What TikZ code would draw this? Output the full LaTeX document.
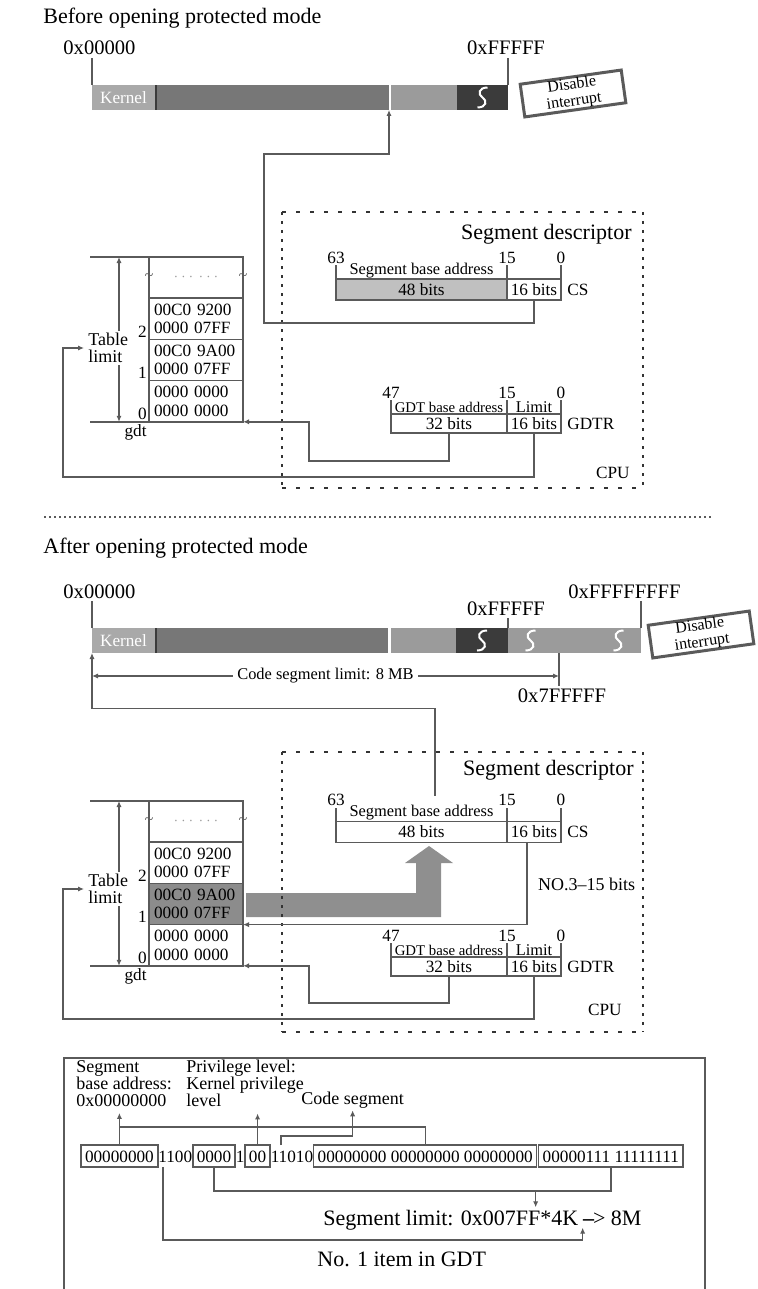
\documentclass[tikz,border=0pt]{standalone}
\usepackage{fontspec}
\setmainfont{Liberation Serif}
\usepackage{tikz}
\usetikzlibrary{arrows.meta,positioning}
\definecolor{linegray}{HTML}{5A5A5A}
\definecolor{kernelgray}{HTML}{A9A9A9}
\definecolor{bargray}{HTML}{777777}
\definecolor{lightbar}{HTML}{9B9B9B}
\definecolor{blackbar}{HTML}{3B3B3B}
\definecolor{basegray}{HTML}{C0C0C0}
\definecolor{rowgray}{HTML}{8C8C8C}
\definecolor{arrowgray}{HTML}{8F8F8F}
\definecolor{dotgray}{HTML}{9A9A9A}
\newcommand\fhead{\fontsize{11}{13}\selectfont}
\newcommand\faddr{\fontsize{10.3}{12}\selectfont}
\newcommand\fmed{\fontsize{9}{8.5}\selectfont}
\newcommand\freg{\fontsize{8.6}{9.2}\selectfont}
\newcommand\fsmall{\fontsize{8.2}{9}\selectfont}
\newcommand\ftiny{\fontsize{7.4}{8}\selectfont}
\tikzset{
  conn/.style={draw=linegray, line width=0.7pt},
  arr/.style={conn, -{Latex[length=3pt,width=2.6pt]}},
  dbl/.style={conn, {Latex[length=3pt,width=2.6pt]}-{Latex[length=3pt,width=2.6pt]}},
  barseg/.style={inner sep=0pt, outer sep=0pt, minimum height=12.5pt, anchor=west},
  addr/.style={font=\faddr, inner sep=1pt},
  reg/.style={draw=linegray, line width=0.75pt, inner sep=0pt, outer sep=0pt, minimum height=10.5pt, font=\freg},
  bitnum/.style={font=\freg, inner sep=0.5pt},
  gdtrow/.style={draw=linegray, line width=0.75pt, inner xsep=2.5pt, inner ysep=0pt, outer sep=0pt, text width=42pt, minimum height=20.6pt, align=left, font=\freg},
  bitbox/.style={draw=linegray, line width=0.75pt, inner xsep=2pt, inner ysep=2.5pt, outer sep=0pt, text height=6pt, text depth=0pt, font=\freg},
  bitplain/.style={bitbox, draw=none, inner xsep=0.3pt},
  disbox/.style={draw=linegray, line width=1.5pt, fill=white, minimum width=51pt, minimum height=16.5pt, inner sep=0.3pt, align=center, font={\fontsize{8}{8.4}\selectfont}, rotate=8},
  tlab/.style={fill=white, inner xsep=0pt, inner ysep=1pt, align=left, font=\fmed},
  idx/.style={font=\freg, inner sep=1pt},
  brkmark/.style={font=\fsmall, text=linegray, inner sep=0pt},
  cpuedge/.style={draw=black!80, line width=1pt},
  brk/.pic={\draw[white, line width=1pt] (5,-10) .. controls (-4,-10) and (-5,-3) .. (0,0) .. controls (5,3) and (4,10) .. (-5,10);}
}
\begin{document}
\begin{tikzpicture}[x=0.5pt, y=-0.5pt]
  \useasboundingbox (0,0) rectangle (757,1289);
  % ---------- before ----------
  \node[font=\fhead, anchor=base west, inner sep=0pt] (hdr1) at (43,24) {Before opening protected mode};
  \node[barseg, fill=kernelgray, text=white, font=\freg, minimum width=31.5pt] (kern) at (92,97.5) {Kernel};
  \node[barseg, fill=blackbar, minimum width=1pt, right=0pt of kern] (kl) {};
  \node[barseg, fill=bargray, minimum width=116pt, right=0pt of kl] (dk) {};
  \node[barseg, fill=lightbar, minimum width=33pt, right=1pt of dk] (lt) {};
  \node[barseg, fill=blackbar, minimum width=25.5pt, right=0pt of lt] (bk) {};
  \pic at (bk.center) {brk};
  \node[addr, anchor=base west] (a0) at (61,55) {0x00000};
  \node[addr, anchor=base] (af) at (506,55) {0xFFFFF};
  \draw[conn] (kern.north west) -- (kern.north west |- a0.south);
  \draw[conn] (bk.north east) -- (bk.north east |- af.south);
  \node[disbox] (dis) at (573,93.5) {Disable\\interrupt};

  \coordinate (cpuA) at (282,212);
  \coordinate (cpuB) at (643,488);
  \draw[cpuedge, dash pattern=on 2pt off 5pt] (cpuA) -- (cpuA -| cpuB) (cpuA |- cpuB) -- (cpuB);
  \draw[cpuedge, dash pattern=on 1.5pt off 3pt] (cpuA) -- (cpuA |- cpuB) (cpuA -| cpuB) -- (cpuB);
  \node[font=\fhead, anchor=base east, inner sep=0pt] (sd1) at (632,240) {Segment descriptor};
  \node[font=\freg, anchor=base east, inner sep=0pt] (cpu1) at (630,478) {CPU};

  % CS register
  \node[reg, fill=basegray, minimum width=85.5pt] (cs48) at (421.5,289.5) {48 bits};
  \node[reg, minimum width=27pt, right=0pt of cs48] (cs16) {16 bits};
  \node[font=\freg, inner sep=0pt, right=3pt of cs16] (csn1) {CS};
  \node[font=\fsmall, inner sep=0.5pt, above=0pt of cs48] (sba1) {Segment base address};
  \draw[conn] (cs48.north west) -- ++(0,-14) node[bitnum, above] {63};
  \draw[conn] (cs16.north west) -- ++(0,-14) node[bitnum, above] {15};
  \draw[conn] (cs16.north east) -- ++(0,-14) node[bitnum, above] {0};

  % GDTR register
  \node[reg, minimum width=58pt, minimum height=9.5pt] (gd32) at (449,423.5) {32 bits};
  \node[reg, minimum width=27pt, minimum height=9.5pt, right=0pt of gd32] (gd16) {16 bits};
  \node[font=\freg, inner sep=0pt, right=3pt of gd16] (gdn1) {GDTR};
  \node[font=\ftiny, inner sep=0.5pt, above=0pt of gd32] (gba1) {GDT base address};
  \node[font=\fsmall, inner sep=0.5pt, above=0pt of gd16] (lim1) {Limit};
  \draw[conn] (gd32.north west) -- ++(0,-14) node[bitnum, above] {47};
  \draw[conn] (gd16.north west) -- ++(0,-14) node[bitnum, above] {15};
  \draw[conn] (gd16.north east) -- ++(0,-14) node[bitnum, above] {0};

  % gdt table
  \node[gdtrow, align=center, text=dotgray, font=\ftiny, anchor=north west] (r3) at (149,257) {$\cdots\,\cdots$};
  \node[gdtrow, below=0pt of r3] (r2) {00C0 9200\\0000 07FF};
  \node[gdtrow, below=0pt of r2] (r1) {00C0 9A00\\0000 07FF};
  \node[gdtrow, below=0pt of r1] (r0) {0000 0000\\0000 0000};
  \node[brkmark] at (r3.west) {\textasciitilde};
  \node[brkmark] at (r3.east) {\textasciitilde};
  \draw[conn] ([xshift=-29.5pt]r3.north west) -- (r3.north west);
  \draw[conn] ([xshift=-29.5pt]r0.south west) -- (r0.south west);
  \draw[dbl] ([xshift=-15pt]r3.north west) -- ([xshift=-15pt]r0.south west);
  \node[tlab, anchor=west] (tl1) at (88,348) {Table\\limit};
  \node[idx, anchor=south east] at (r2.south west) {2};
  \node[idx, anchor=south east] at (r1.south west) {1};
  \node[idx, anchor=south east] at (r0.south west) {0};
  \node[idx, anchor=north east] (gdt1) at (r0.south west) {gdt};

  % connectors
  \draw[arr] (cs16.south) -- ++(0,23) -| (264,154) -| (dk.south east);
  \draw[arr] (gd32.south) -- ++(0,28) -| ([xshift=33pt]r0.south east) -- (r0.south east);
  \draw[arr, shorten >=2pt] (gd16.south) -- ++(0,44) -| ([xshift=-12.5pt]tl1.west) -- (tl1.west);

  \draw[draw=linegray, line width=0.9pt, dash pattern=on 0.9pt off 1.6pt] (44,517) -- (712,517);

  % ---------- after ----------
  \node[font=\fhead, anchor=base west, inner sep=0pt] (hdr2) at (43,553) {After opening protected mode};
  \node[barseg, fill=kernelgray, text=white, font=\freg, minimum width=31.5pt] (kern2) at (92,640.5) {Kernel};
  \node[barseg, fill=blackbar, minimum width=1pt, right=0pt of kern2] (kl2) {};
  \node[barseg, fill=bargray, minimum width=115.5pt, right=0pt of kl2] (dk2) {};
  \node[barseg, fill=lightbar, minimum width=32.5pt, right=1.5pt of dk2] (lt2) {};
  \node[barseg, fill=blackbar, minimum width=26pt, right=0pt of lt2] (bk2) {};
  \node[barseg, fill=lightbar, minimum width=66.5pt, right=0pt of bk2] (lt2b) {};
  \pic at (bk2.center) {brk};
  \pic at ([xshift=-22pt]lt2b.center) {brk};
  \pic at ([xshift=22pt]lt2b.center) {brk};
  \node[addr, anchor=base west] (a0b) at (61,598) {0x00000};
  \node[addr, anchor=base] (afb) at (506,615) {0xFFFFF};
  \node[addr, anchor=base] (aff) at (624.5,598) {0xFFFFFFFF};
  \node[addr, anchor=base] (a7) at (562,702) {0x7FFFFF};
  \draw[conn] (kern2.north west) -- (kern2.north west |- a0b.south);
  \draw[conn] (bk2.north east) -- (bk2.north east |- afb.south);
  \draw[conn] (lt2b.north east) -- (lt2b.north east |- aff.south);
  \draw[conn] ([xshift=-1.5pt]a7.north) -- ([xshift=-1.5pt]a7.north |- lt2b.south);
  \draw[dbl] (kern2.south west |- 0,676) -- ([xshift=-1.5pt]a7.north |- 0,676)
    node[pos=0.5, font=\fsmall, fill=white, inner xsep=2pt, inner ysep=0.5pt] (csl) {Code segment limit: 8 MB};
  \node[disbox] (dis2) at (701,634.5) {Disable\\interrupt};

  % gdt table
  \node[gdtrow, align=center, text=dotgray, font=\ftiny, anchor=north west] (r3b) at (149,801) {$\cdots\,\cdots$};
  \node[gdtrow, below=0pt of r3b] (r2b) {00C0 9200\\0000 07FF};
  \node[gdtrow, fill=rowgray, below=0pt of r2b] (r1b) {00C0 9A00\\0000 07FF};
  \node[gdtrow, below=0pt of r1b] (r0b) {0000 0000\\0000 0000};
  \node[brkmark] at (r3b.west) {\textasciitilde};
  \node[brkmark] at (r3b.east) {\textasciitilde};
  \draw[conn] ([xshift=-29.5pt]r3b.north west) -- (r3b.north west);
  \draw[conn] ([xshift=-29.5pt]r0b.south west) -- (r0b.south west);
  \draw[dbl] ([xshift=-15pt]r3b.north west) -- ([xshift=-15pt]r0b.south west);
  \node[tlab, anchor=west] (tl2) at (88,889) {Table\\limit};
  \node[idx, anchor=south east] at (r2b.south west) {2};
  \node[idx, anchor=south east] at (r1b.south west) {1};
  \node[idx, anchor=south east] at (r0b.south west) {0};
  \node[idx, anchor=north east] (gdt2) at (r0b.south west) {gdt};

  % wide arrow: item 1 loaded into CS
  \fill[arrowgray] (r1b.east) ++(3,-11) -- ++(170,0) -- ++(0,-30) -- ++(-11,0) -- ++(24,-17)
    -- ++(24,17) -- ++(-12,0) -- ++(0,54) -- ++(-195,0) -- cycle;

  \coordinate (cpuC) at (282,752);
  \coordinate (cpuD) at (643,1032);
  \draw[cpuedge, dash pattern=on 2pt off 5pt] (cpuC) -- (cpuC -| cpuD) (cpuC |- cpuD) -- (cpuD);
  \draw[cpuedge, dash pattern=on 1.5pt off 3pt] (cpuC) -- (cpuC |- cpuD) (cpuC -| cpuD) -- (cpuD);
  \node[font=\fhead, anchor=base east, inner sep=0pt] (sd2) at (634,775) {Segment descriptor};
  \node[font=\freg, anchor=base east, inner sep=0pt] (cpu2) at (622,1015) {CPU};

  % CS register
  \node[reg, minimum width=85.5pt] (cs48b) at (421.5,832) {48 bits};
  \node[reg, minimum width=27pt, right=0pt of cs48b] (cs16b) {16 bits};
  \node[font=\freg, inner sep=0pt, right=3pt of cs16b] (csn2) {CS};
  \node[font=\fsmall, inner sep=0.5pt, above=0pt of cs48b] (sba2) {Segment base address};
  \draw[conn] (cs48b.north west) -- ++(0,-14) node[bitnum, above] {63};
  \draw[conn] (cs16b.north west) -- ++(0,-14) node[bitnum, above] {15};
  \draw[conn] (cs16b.north east) -- ++(0,-14) node[bitnum, above] {0};

  % GDTR register
  \node[reg, minimum width=58pt, minimum height=9.5pt] (gd32b) at (449,966.5) {32 bits};
  \node[reg, minimum width=27pt, minimum height=9.5pt, right=0pt of gd32b] (gd16b) {16 bits};
  \node[font=\freg, inner sep=0pt, right=3pt of gd16b] (gdn2) {GDTR};
  \node[font=\ftiny, inner sep=0.5pt, above=0pt of gd32b] (gba2) {GDT base address};
  \node[font=\fsmall, inner sep=0.5pt, above=0pt of gd16b] (lim2) {Limit};
  \draw[conn] (gd32b.north west) -- ++(0,-14) node[bitnum, above] {47};
  \draw[conn] (gd16b.north west) -- ++(0,-14) node[bitnum, above] {15};
  \draw[conn] (gd16b.north east) -- ++(0,-14) node[bitnum, above] {0};

  % connectors
  \draw[arr] ([xshift=6.75pt]sba2.north) ++(0,-8) -- ++(0,-87) -| (kern2.south west);
  \draw[arr] ([xshift=-3.5pt]cs16b.south) |- (r1b.south east);
  \node[font=\fmed, anchor=west] (nob) at (531,884) {NO.3--15 bits};
  \draw[arr] (gd32b.south) -- ++(0,27) -| ([xshift=33pt]r0b.south east) -- (r0b.south east);
  \draw[arr, shorten >=2pt] (gd16b.south) -- ++(0,43) -| ([xshift=-12.5pt]tl2.west) -- (tl2.west);

  % ---------- descriptor bits ----------
  \draw[conn] (64,1289) |- (705,1058) -- (705,1289);
  \node[bitbox, anchor=west] (b1) at (81,1156) {00000000};
  \node[bitplain, right=0pt of b1] (b2) {1100};
  \node[bitbox, right=0pt of b2] (b3) {0000};
  \node[bitplain, right=0pt of b3] (b4) {1};
  \node[bitbox, right=0pt of b4] (b5) {00};
  \node[bitplain, right=0pt of b5] (b6) {11010};
  \node[bitbox, right=0pt of b6] (b7) {00000000 00000000 00000000\ };
  \node[bitbox, right=1pt of b7] (b8) {00000111 11111111};

  \node[font=\fmed, align=left, anchor=north west, inner sep=0pt] (sbl) at (76,1060) {Segment\\base address:\\0x00000000};
  \node[font=\fmed, align=left, anchor=north west, inner sep=0pt] (pll) at (186,1060) {Privilege level:\\Kernel privilege\\level};
  \node[font=\fmed, anchor=base west, inner sep=0pt] (csg) at (301,1104) {Code segment};

  \draw[conn] (b1.north) -- ++(0,-18) -| (b7.north);
  \draw[arr, shorten >=3pt] (b1.north) -- (b1.north |- sbl.south);
  \draw[arr, shorten >=3pt] (b5.north) -- (b5.north |- pll.south);
  \draw[arr, shorten >=1pt] ([xshift=5.5pt]b6.north west) -- ++(0,-9) -| (csg.south);

  \node[font=\fhead, anchor=base west, inner sep=1pt] (lim) at (321,1225) {Segment limit: 0x007FF*4K};
  \node[font=\fhead, anchor=base west, inner sep=1pt] (lim8) at (lim.base east) {\textbf{--}\kern-0.6pt> 8M};
  \node[font=\fhead, anchor=base west, inner sep=0pt] (gdtno) at (317,1266) {No. 1 item in GDT};

  \path (b3.south) ++(0,24) coordinate (lbus);
  \draw[conn] (b3.south) -- (lbus) -| (b8.south);
  \draw[arr] ([xshift=-22.5pt]lim.north east |- lbus) -- ([xshift=-22.5pt]lim.north east);
  \draw[arr] ([xshift=2.5pt]b2.south west) -- ++(0,73) -| ([xshift=1pt]lim8.south west);
\end{tikzpicture}
\end{document}
